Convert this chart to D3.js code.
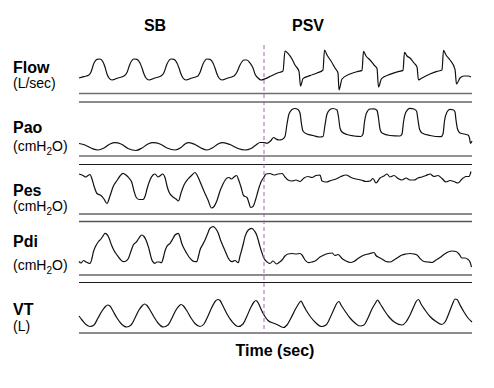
<!DOCTYPE html>
<html>
<head>
<meta charset="utf-8">
<script src="https://cdn.jsdelivr.net/npm/d3@7"></script>
<style>
  body { margin: 0; background: #fff; font-family: "Liberation Sans", Arial, Helvetica, sans-serif; }
</style>
</head>
<body>
<div id="chart"></div>
<script>
// phases of the recording and the time (s) where PSV starts
const phaseNames = ["SB", "PSV"];
const switchTime = 18.5;
const timeEnd = 39.3;

const channelNames = ["Flow", "Pao", "Pes", "Pdi", "VT"];
const channelUnits = [["(L/sec)"], ["(cmH", "2", "O)"], ["(cmH", "2", "O)"], ["(cmH", "2", "O)"], ["(L)"]];
const timeLabel = "Time (sec)";

// [time s, flow L/sec]
const flowData = [
  [0, -0.15], [0.5, -0.08], [1.0, 0.0], [1.2, 0.15], [1.5, 0.6], [1.8, 0.78], [2.1, 0.8], [2.4, 0.65], [2.6, 0.4], [2.8, 0.05], [3.0, -0.15], [3.3, -0.25],
  [3.9, -0.15], [4.5, -0.05], [4.8, 0.13], [5.1, 0.55], [5.5, 0.8], [5.8, 0.78], [6.1, 0.6], [6.3, 0.35], [6.5, 0.05], [6.7, -0.15], [7.0, -0.25],
  [7.6, -0.15], [8.2, -0.05], [8.5, 0.13], [8.8, 0.55], [9.2, 0.8], [9.5, 0.78], [9.8, 0.6], [10.0, 0.35], [10.2, 0.05], [10.4, -0.15], [10.7, -0.25],
  [11.3, -0.15], [11.9, -0.05], [12.1, 0.13], [12.4, 0.55], [12.8, 0.8], [13.1, 0.78], [13.4, 0.6], [13.6, 0.35], [13.8, 0.05], [14.0, -0.15], [14.3, -0.25],
  [14.9, -0.15], [15.5, -0.05], [15.8, 0.15], [16.1, 0.5], [16.5, 0.75], [16.8, 0.75], [17.1, 0.6], [17.4, 0.35], [17.6, 0.05], [17.9, -0.15], [18.2, -0.25],
  [18.7, -0.17], [19.2, -0.05], [19.8, 0.09], [20.4, 0.2], [20.6, 1.2], [20.9, 1.08], [21.3, 0.8], [21.6, 0.5], [22.0, 0.18], [22.15, -0.55], [22.4, -0.18],
  [23.1, -0.03], [23.8, 0.1], [24.4, 0.25], [24.55, 1.25], [24.8, 1.0], [25.2, 0.7], [25.6, 0.35], [25.9, 0.1], [26.0, -0.75], [26.3, -0.2],
  [27.1, 0.05], [27.9, 0.18], [28.3, 0.23], [28.45, 1.18], [28.7, 0.95], [29.1, 0.75], [29.5, 0.5], [29.8, 0.33], [29.95, -0.6], [30.25, -0.18],
  [31.1, 0.03], [32.0, 0.18], [32.4, 0.23], [32.55, 1.13], [32.8, 0.95], [33.1, 0.85], [33.5, 0.6], [33.8, 0.4], [33.95, -0.25], [34.3, -0.15],
  [35.1, 0.05], [35.8, 0.18], [36.3, 0.25], [36.45, 1.23], [36.7, 1.0], [37.1, 0.75], [37.6, 0.28], [37.75, -0.45], [38.1, -0.15], [38.5, -0.05], [38.9, -0.05], [39.2, -0.1]
];

// [time s, airway opening pressure cmH2O]
const paoData = [
  [0, 1.75], [0.6, 1.0], [1.3, -0.75], [1.9, -1.5], [2.5, -0.5], [3.1, 1.5], [3.6, 2.15], [4.2, 1.5], [4.9, -0.75], [5.7, -1.75],
  [6.3, -0.5], [6.9, 1.5], [7.4, 2.15], [8.1, 1.5], [8.8, -0.5], [9.6, -1.5], [10.2, -0.25], [10.6, 1.5], [11.0, 2.15], [11.6, 1.25],
  [12.2, -0.5], [12.8, -1.5], [13.4, -0.25], [13.9, 1.5], [14.4, 2.15], [15.1, 1.25], [15.9, -0.75], [16.6, -1.5], [17.2, -0.75], [17.7, 1.0],
  [18.1, 2.25], [18.5, 2.25], [18.8, 1.85], [19.2, 3.25], [19.45, 4.75], [19.7, 4.0], [20.0, 3.5], [20.3, 3.75], [20.6, 5.25],
  [20.8, 11.5], [21.0, 16.5], [21.3, 18.75], [21.6, 19.25], [21.9, 18.75], [22.1, 17.0], [22.25, 11.5], [22.4, 8.0], [22.8, 6.5], [23.4, 5.75], [24.1, 5.0],
  [24.4, 5.25], [24.6, 11.0], [24.8, 16.5], [25.1, 18.75], [25.4, 19.25], [25.8, 18.5], [25.95, 15.0], [26.1, 9.5], [26.3, 7.5], [26.8, 6.25], [27.5, 5.5], [28.2, 5.25],
  [28.4, 6.5], [28.55, 12.5], [28.75, 17.0], [29.1, 19.0], [29.5, 19.1], [29.8, 18.25], [29.95, 14.5], [30.1, 9.0], [30.3, 7.0], [31.1, 5.75], [32.1, 5.5],
  [32.3, 6.5], [32.45, 12.5], [32.7, 17.5], [33.1, 19.35], [33.5, 19.0], [33.75, 18.0], [33.9, 13.5], [34.05, 9.0], [34.3, 7.0], [35.1, 5.75], [36.2, 5.15],
  [36.4, 6.5], [36.55, 13.0], [36.8, 17.5], [37.1, 18.85], [37.4, 18.6], [37.6, 17.5], [37.7, 13.5], [37.85, 9.0], [38.1, 7.0], [38.9, 6.0],
  [39.05, 4.5], [39.15, 1.75], [39.3, 3.0]
];

// [time s, oesophageal pressure cmH2O]
const pesData = [
  [0, 0.5], [0.4, -0.25], [0.7, -1.0], [0.9, -0.25], [1.1, 0.25], [1.3, -2.0], [1.5, -5.5], [1.8, -9.25], [2.2, -10.25], [2.5, -12.0], [2.8, -14.25],
  [3.1, -10.5], [3.4, -6.0], [3.8, -2.75], [4.1, -0.5], [4.4, 0.85], [4.7, 0], [5.0, -1.5], [5.3, -4.0], [5.5, -8.0], [5.7, -11.0], [6.0, -12.25],
  [6.4, -12.25], [6.65, -10.0], [6.8, -7.0], [7.1, -2.5], [7.4, 0], [7.6, 0.5], [7.9, -1.0], [8.15, -0.25], [8.35, 0.5], [8.6, -1.25], [8.8, -5.5],
  [9.0, -8.5], [9.4, -11.0], [9.7, -12.0], [9.95, -13.0], [10.2, -9.0], [10.5, -5.0], [10.9, -2.0], [11.3, 0], [11.6, 1.25], [11.9, -1.0],
  [12.2, -4.5], [12.6, -9.25], [12.9, -12.5], [13.25, -16.5], [13.5, -15.75], [13.8, -12.75], [14.1, -8.0], [14.4, -4.5], [14.8, -1.5], [15.0, -1.25],
  [15.25, -2.0], [15.5, -1.0], [15.75, -0.25], [16.0, -3.0], [16.2, -6.0], [16.45, -10.25], [16.8, -11.25], [17.0, -14.0], [17.15, -16.25], [17.4, -15.75],
  [17.65, -12.5], [17.9, -8.0], [18.2, -3.5], [18.5, -1.0],
  [18.7, 0.5], [19.1, 0.75], [19.5, 0], [19.9, 0.5], [20.3, 0.75], [20.6, -1.0], [20.9, -2.5], [21.3, -3.0], [21.7, -2.5], [22.1, -3.25], [22.5, -1.5],
  [22.9, -0.75], [23.3, -1.25], [23.7, -0.25], [24.1, 0], [24.3, -3.0], [24.7, -3.5], [25.2, -2.75], [25.7, -2.0], [26.2, -0.75], [26.7, 0],
  [27.2, -1.25], [27.7, -2.0], [28.2, -2.5], [28.7, -3.25], [29.1, -3.0], [29.4, -1.75], [29.7, -4.0], [30.1, -1.5], [30.5, -0.5], [30.8, 0.5],
  [31.1, -1.0], [31.5, -0.25], [31.9, -1.75], [32.3, -2.5], [32.7, -1.5], [33.1, -2.5], [33.5, -2.5], [33.9, -1.5], [34.3, -1.0], [34.7, -0.25],
  [35.1, 0.5], [35.5, -0.75], [35.9, -0.25], [36.3, -1.75], [36.7, -3.5], [37.1, -2.75], [37.5, -3.25], [37.9, -4.0], [38.3, -2.0], [38.7, -0.75],
  [39.0, -0.75], [39.2, 1.75]
];

// [time s, transdiaphragmatic pressure cmH2O]
const pdiData = [
  [0, 0.75], [0.2, 0], [0.45, 1.25], [0.7, 0.5], [1.1, -0.25], [1.3, 2.5], [1.45, 5.75], [1.65, 8.25], [1.95, 10.75], [2.2, 12.0], [2.4, 13.5],
  [2.6, 14.85], [2.8, 14.25], [3.0, 12.5], [3.25, 9.0], [3.5, 6.25], [3.8, 4.0], [4.1, 2.0], [4.43, 0.65], [4.7, 1.0], [4.95, 2.35], [5.2, 6.0],
  [5.43, 9.0], [5.77, 10.65], [6.0, 12.5], [6.27, 14.0], [6.5, 13.25], [6.7, 11.5], [6.93, 8.15], [7.1, 5.0], [7.27, 1.75], [7.45, 0.25], [7.6, -0.15],
  [7.8, 0.5], [8.0, 0.5], [8.25, 0.15], [8.45, 3.0], [8.6, 6.0], [8.77, 8.15], [9.1, 9.85], [9.4, 12.25], [9.6, 14.0], [9.93, 14.85], [10.1, 13.0],
  [10.27, 9.85], [10.5, 7.25], [10.77, 4.85], [11.0, 3.0], [11.27, 1.5], [11.5, 0.75], [11.77, 0.65], [11.95, 3.5], [12.1, 6.5], [12.35, 9.0],
  [12.6, 11.5], [12.85, 14.5], [13.1, 17.35], [13.43, 18.15], [13.7, 17.0], [13.93, 14.85], [14.15, 11.5], [14.43, 8.15], [14.7, 5.0], [14.93, 2.35],
  [15.27, 0.65], [15.6, 1.25], [15.93, 0.15], [16.1, 3.5], [16.27, 6.5], [16.45, 10.0], [16.6, 13.15], [16.93, 16.5], [17.27, 17.35], [17.55, 16.0],
  [17.77, 14.0], [17.95, 11.0], [18.1, 8.15], [18.3, 5.0], [18.43, 3.15], [18.77, 0.65], [19.1, -0.25], [19.4, 1.0], [19.75, -0.5], [20.0, 0.25],
  [20.3, 1.5], [20.6, 3.5], [20.9, 4.5], [21.3, 4.75], [21.7, 4.5], [22.1, 4.75], [22.3, 4.0], [22.6, 1.5], [22.93, 0.15], [23.3, 0.5], [23.7, 1.25],
  [24.1, 3.0], [24.5, 4.0], [24.9, 4.75], [25.3, 5.0], [25.6, 3.75], [25.9, 4.25], [26.3, 2.25], [26.7, 1.0], [27.1, 0.25], [27.5, 0.75], [27.9, 2.25],
  [28.3, 3.5], [28.7, 4.25], [29.1, 4.75], [29.5, 5.25], [29.7, 3.75], [30.0, 2.75], [30.3, 2.0], [30.7, 0.75], [31.1, 0.5], [31.5, 1.5], [31.9, 2.75],
  [32.3, 4.0], [32.7, 4.5], [33.1, 4.75], [33.5, 4.5], [33.8, 4.0], [34.1, 2.25], [34.5, 0.75], [34.9, 0.5], [35.3, 0.25], [35.7, 1.5], [36.1, 2.75],
  [36.5, 4.25], [36.9, 5.5], [37.3, 6.0], [37.7, 5.75], [38.0, 4.5], [38.3, 2.5], [38.6, 2.5], [38.9, 1.75], [39.1, 0.5], [39.25, -2.0]
];

// [time s, tidal volume L]
const vtData = [
  [0, 0.22], [0.3, 0.14], [0.7, 0.05], [1.1, 0.01], [1.5, 0.04], [1.9, 0.18], [2.3, 0.32], [2.6, 0.40], [2.85, 0.44], [3.1, 0.42], [3.4, 0.32],
  [3.8, 0.18], [4.2, 0.07], [4.77, 0.0], [5.2, 0.04], [5.6, 0.18], [6.0, 0.34], [6.3, 0.42], [6.55, 0.46], [6.8, 0.43], [7.1, 0.34], [7.5, 0.20],
  [7.9, 0.08], [8.43, 0.0], [8.9, 0.04], [9.3, 0.18], [9.7, 0.34], [10.0, 0.42], [10.2, 0.45], [10.45, 0.42], [10.8, 0.32], [11.2, 0.18], [11.6, 0.07],
  [12.1, 0.01], [12.5, 0.06], [12.9, 0.22], [13.3, 0.40], [13.65, 0.52], [13.9, 0.55], [14.1, 0.53], [14.4, 0.42], [14.8, 0.26], [15.3, 0.11],
  [15.93, 0.01], [16.4, 0.06], [16.8, 0.22], [17.2, 0.40], [17.5, 0.50], [17.7, 0.53], [17.9, 0.49], [18.2, 0.36], [18.5, 0.24], [18.9, 0.13],
  [19.4, 0.08], [19.8, 0.05], [20.43, -0.01], [20.8, 0.04], [21.2, 0.18], [21.6, 0.34], [21.95, 0.46], [22.2, 0.52], [22.4, 0.45], [22.7, 0.34],
  [23.2, 0.19], [23.7, 0.08], [24.27, 0.01], [24.7, 0.04], [25.1, 0.18], [25.5, 0.36], [25.8, 0.48], [26.0, 0.51], [26.2, 0.44], [26.6, 0.32],
  [27.1, 0.18], [27.6, 0.08], [28.1, 0.02], [28.5, 0.04], [28.9, 0.18], [29.3, 0.36], [29.65, 0.48], [29.85, 0.54], [30.1, 0.47], [30.5, 0.34],
  [31.0, 0.20], [31.6, 0.09], [32.3, 0.04], [32.7, 0.10], [33.1, 0.24], [33.5, 0.42], [33.75, 0.52], [33.95, 0.55], [34.2, 0.46], [34.6, 0.34],
  [35.1, 0.21], [35.7, 0.11], [36.27, 0.05], [36.6, 0.10], [37.0, 0.28], [37.35, 0.46], [37.6, 0.56], [37.8, 0.55], [38.1, 0.44], [38.5, 0.30],
  [38.9, 0.18], [39.3, 0.10]
];

function drawTracings() {
    const width = 494, height = 388;
    const plotLeft = 79, plotRight = 472;

    const svg = d3.select("#chart")
        .append("svg")
        .attr("width", width)
        .attr("height", height);

    const xScale = d3.scaleLinear()
        .domain([0, timeEnd])
        .range([plotLeft, plotRight]);

    // per channel layout: y range, label baselines, separator rules
    const panels = [
        { data: flowData, domain: [-1, 1.5], range: [95, 45], labelY: 72.5, unitY: 87.5,
          rules: [[93.5, "#6e6e6e", 1.6], [102, "#1a1a1a", 1.1]] },
        { data: paoData, domain: [-5, 20], range: [157, 107], labelY: 133, unitY: 151,
          rules: [[156, "#6e6e6e", 1.6], [164.5, "#1a1a1a", 1.1]] },
        { data: pesData, domain: [-20, 5], range: [215, 165], labelY: 195.5, unitY: 211,
          rules: [[214, "#1a1a1a", 1.1], [221.5, "#555", 1.4]] },
        { data: pdiData, domain: [-5, 20], range: [273, 223], labelY: 247, unitY: 270,
          rules: [[275, "#1a1a1a", 1.1], [282.5, "#1a1a1a", 1.1]] },
        { data: vtData, domain: [-0.1, 0.6], range: [332, 297], labelY: 315, unitY: 331,
          rules: [[333, "#1a1a1a", 1.1]] }
    ];

    panels.forEach((p, i) => {
        const yScale = d3.scaleLinear().domain(p.domain).range(p.range);

        // separator lines under each tracing
        svg.selectAll(null)
            .data(p.rules)
            .enter()
            .append("line")
            .attr("x1", xScale(0))
            .attr("x2", xScale(timeEnd))
            .attr("y1", d => d[0])
            .attr("y2", d => d[0])
            .attr("stroke", d => d[1])
            .attr("stroke-width", d => d[2]);

        const line = d3.line()
            .x(d => xScale(d[0]))
            .y(d => yScale(d[1]))
            .curve(d3.curveMonotoneX);

        svg.append("path")
            .datum(p.data)
            .attr("d", line)
            .attr("fill", "none")
            .attr("stroke", "#111")
            .attr("stroke-width", 1.2)
            .attr("stroke-linejoin", "round");

        // channel name
        svg.append("text")
            .attr("x", 13)
            .attr("y", p.labelY)
            .attr("font-size", 16)
            .attr("font-weight", "bold")
            .attr("fill", "#000")
            .text(channelNames[i]);

        // units, with subscript where needed
        const unit = svg.append("text")
            .attr("x", 13)
            .attr("y", p.unitY)
            .attr("font-size", 14)
            .attr("fill", "#000");
        const parts = channelUnits[i];
        unit.append("tspan").text(parts[0]);
        if (parts.length > 1) {
            unit.append("tspan").attr("font-size", 10).attr("dy", 4).text(parts[1]);
            unit.append("tspan").attr("dy", -4).text(parts[2]);
        }
    });

    // dashed marker where pressure support starts
    svg.append("line")
        .attr("x1", xScale(switchTime))
        .attr("x2", xScale(switchTime))
        .attr("y1", 45)
        .attr("y2", 333)
        .attr("stroke", "#a865a8")
        .attr("stroke-width", 1)
        .attr("stroke-dasharray", "4,3");

    // phase titles
    const xSwitch = xScale(switchTime);
    svg.selectAll(".phase-label")
        .data(phaseNames)
        .enter()
        .append("text")
        .attr("class", "phase-label")
        .attr("x", (d, i) => i === 0 ? xSwitch - 109 : xSwitch + 44)
        .attr("y", 31)
        .attr("text-anchor", "middle")
        .attr("font-size", 16)
        .attr("font-weight", "bold")
        .text(d => d);

    svg.append("text")
        .attr("x", 275)
        .attr("y", 356)
        .attr("text-anchor", "middle")
        .attr("font-size", 16)
        .attr("font-weight", "bold")
        .text(timeLabel);
}

drawTracings();
</script>
</body>
</html>
